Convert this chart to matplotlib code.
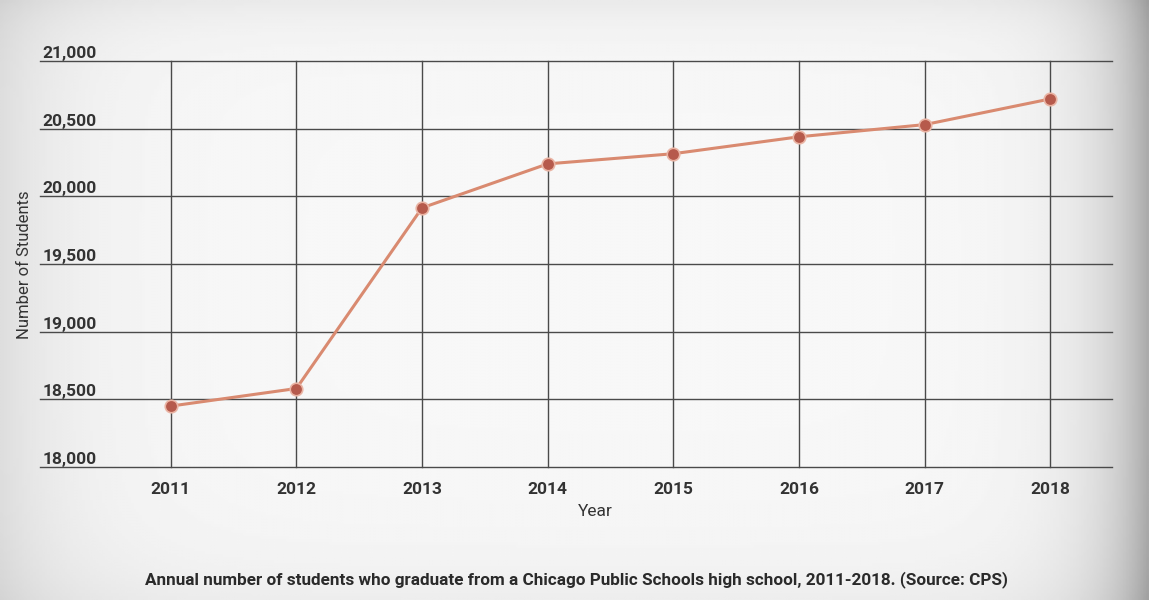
import numpy as np
import matplotlib
matplotlib.use("Agg")
import matplotlib.pyplot as plt

plt.rcParams['font.family'] = ['Roboto', 'DejaVu Sans']

# Annual CPS high-school graduates
years = [2011, 2012, 2013, 2014, 2015, 2016, 2017, 2018]
graduates = [18450, 18580, 19915, 20240, 20315, 20440, 20530, 20720]
y_ticks = [18000, 18500, 19000, 19500, 20000, 20500, 21000]

fig = plt.figure(figsize=(11.49, 6.0), dpi=100)

# soft screen-like background: grey towards the edges, bright in the middle
bg_ax = fig.add_axes([0, 0, 1, 1], zorder=-10)
gx = np.linspace(0, 1, 400)
gy = np.linspace(0, 1, 200)
X, Y = np.meshgrid(gx, gy)
shade = 0.97 - 0.10 * np.exp(-X / 0.06) - 0.30 * np.exp(-(1 - X) / 0.04) \
        - 0.04 * np.exp(-Y / 0.08) - 0.05 * np.exp(-(1 - Y) / 0.05)
bg_ax.imshow(np.clip(shade, 0, 1), cmap='gray', vmin=0, vmax=1,
             extent=[0, 1, 0, 1], aspect='auto', origin='lower')
bg_ax.axis('off')

ax = fig.add_axes([40 / 1149, 1 - 467 / 600, (1112 - 40) / 1149, (467 - 61) / 600])
ax.patch.set_alpha(0)
ax.set_xlim(2009.96, 2018.49)
ax.set_ylim(18000, 21000)

for s in ax.spines.values():
    s.set_visible(False)

ax.set_yticks(y_ticks)
ax.set_yticklabels([])
ax.set_xticks(years)
ax.set_xticklabels([str(y) for y in years], fontsize=12.5, fontweight='bold', color='#333333')
ax.tick_params(axis='both', length=0)
ax.tick_params(axis='x', pad=11)
ax.grid(True, color='#4a4a4a', linewidth=1.0)
ax.set_axisbelow(True)
for gl in ax.get_xgridlines() + ax.get_ygridlines():
    gl.set_clip_on(False)

# value labels sit just above their gridlines at the left edge
for v in y_ticks:
    ax.text(0.002, v, f"{v:,}", transform=ax.get_yaxis_transform(),
            ha='left', va='bottom', fontsize=12.5, fontweight='bold',
            color='#333333')

ax.plot(years, graduates, color='#d98a70', linewidth=2.2, zorder=3,
        marker='o', markersize=9, markerfacecolor='#b65a4c',
        markeredgecolor='#eab4a4', markeredgewidth=1.2)

fig.text(595 / 1149, 1 - 512 / 600, 'Year', ha='center', va='center',
         fontsize=12.5, color='#333333')
fig.text(25 / 1149, 1 - 265 / 600, 'Number of Students', rotation=90,
         ha='center', va='center', fontsize=12, color='#333333')

fig.text(576 / 1149, 1 - 580 / 600,
         'Annual number of students who graduate from a Chicago Public Schools high school, 2011-2018. (Source: CPS)',
         ha='center', va='center', fontsize=12.3, fontweight='bold', color='#2a2a2a')

fig.savefig('out.png', dpi=100)
